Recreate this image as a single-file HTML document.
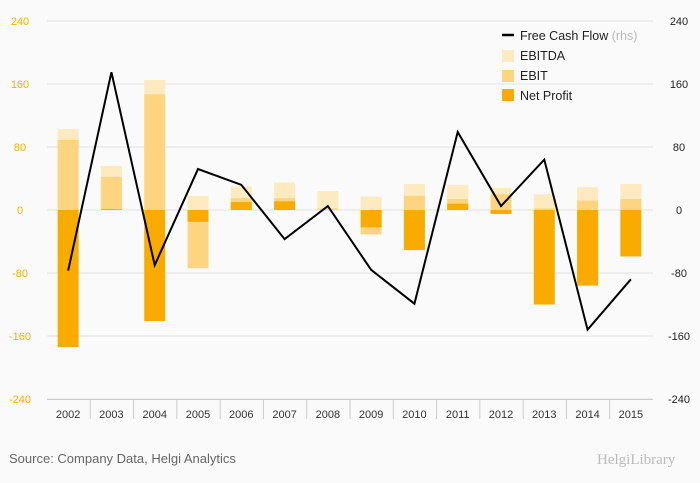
<!DOCTYPE html>
<html><head><meta charset="utf-8"><style>
body{margin:0;background:#fafafa;font-family:"Liberation Sans",sans-serif}
svg{display:block}
</style></head><body>
<svg id="c" width="700" height="483">
<rect width="700" height="483" fill="#fafafa"/>
<g id="grid"></g>
<g id="bars"></g>
<g id="line"></g>
<g id="axes"></g>
<g font-size="12.5" fill="#222">
<line x1="502" y1="35" x2="514" y2="35" stroke="#000" stroke-width="2.5"/>
<text x="520" y="40">Free Cash Flow <tspan fill="#bbb">(rhs)</tspan></text>
<rect x="502" y="50" width="12" height="12" fill="#fdeac0"/>
<text x="520" y="60">EBITDA</text>
<rect x="502" y="70" width="12" height="12" fill="#fdd580"/>
<text x="520" y="80">EBIT</text>
<rect x="502" y="89" width="12" height="12" fill="#f9ab00"/>
<text x="520" y="100">Net Profit</text>
</g>
<text x="9" y="463" font-size="13" fill="#666">Source: Company Data, Helgi Analytics</text>
<text x="597" y="464" font-size="15" fill="#bbb" font-family="Liberation Serif,serif">HelgiLibrary</text>
</svg>
<script>
const categories=["2002","2003","2004","2005","2006","2007","2008","2009","2010","2011","2012","2013","2014","2015"];
const ebitda=[103,56,165,18,30,35,24,17,33,32,28,20,29,33];
const ebit=[89,42,147,-74,15,15,2,-31,18,14,20,2,12,14];
const netProfit=[-174,1,-141,-15,10,11,0,-22,-51,8,-5,-120,-96,-59];
const fcf=[-77,175,-70,52,32,-37,5,-76,-119,99,5,64,-152,-88];
const ticks=[240,160,80,0,-80,-160,-240];
const NS="http://www.w3.org/2000/svg";
const X0=47,X1=653,Y0=21,Y1=399;
const bw=(X1-X0)/categories.length;
const y=v=>Y0+(240-v)/480*(Y1-Y0);
const xc=i=>X0+bw*(i+0.5)-0.5;
function mk(t,a,p){const e=document.createElementNS(NS,t);for(const k in a)e.setAttribute(k,a[k]);p.appendChild(e);return e;}
const G=document.getElementById('grid'),B=document.getElementById('bars'),L=document.getElementById('line'),A=document.getElementById('axes');
ticks.forEach(t=>{
 const l=mk('line',{x1:X0,x2:X1,y1:y(t),y2:y(t),stroke:'#e3e3e3','stroke-width':1},G);
 
 
 const a=mk('text',{x:20,y:y(t)+4,'font-size':11,fill:'#f9ab00','text-anchor':'middle'},A);a.textContent=t;
 
 
 const b=mk('text',{x:679,y:y(t)+4,'font-size':11,fill:'#222','text-anchor':'middle'},A);b.textContent=t;
 
 
});
const bl=mk('line',{x1:X0,x2:X1,y1:Y1+0.5,y2:Y1+0.5,stroke:'#ccc'},A);


categories.forEach((c,i)=>{
 if(i>0){const s=mk('line',{x1:X0+bw*i,x2:X0+bw*i,y1:Y1,y2:Y1+20,stroke:'#ccc'},A);
  
  }
 const t=mk('text',{x:xc(i),y:418,'font-size':11,fill:'#333','text-anchor':'middle'},A);t.textContent=c;
 
 
 [[ebitda,'#fdeac0','bar-ebitda'],[ebit,'#fdd580','bar-ebit'],[netProfit,'#f9ab00','bar-net-profit']].forEach(([arr,col,nm])=>{
  const v=arr[i];const r=mk('rect',{x:xc(i)-10.5,width:21,y:Math.min(y(v),y(0)),height:Math.abs(y(v)-y(0)),fill:col},B);
  
  
 });
});
const p=mk('polyline',{points:fcf.map((v,i)=>xc(i)+','+y(v)).join(' '),fill:'none',stroke:'#000','stroke-width':2},L);


</script>
</body></html>
